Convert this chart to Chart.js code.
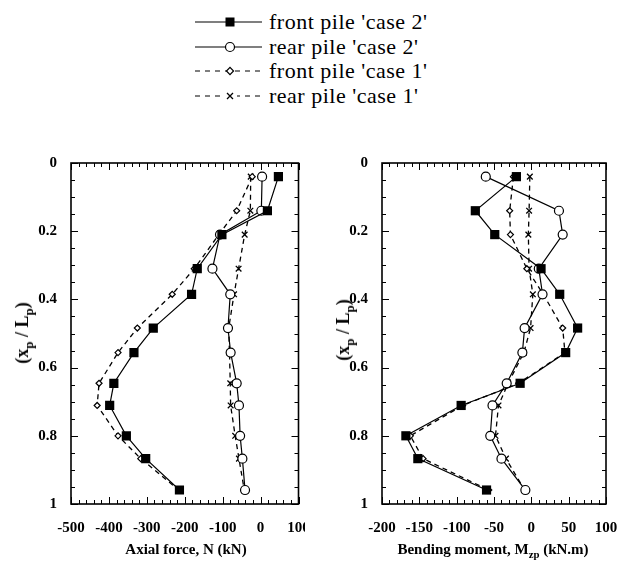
<!DOCTYPE html>
<html><head><meta charset="utf-8">
<script src="https://cdn.jsdelivr.net/npm/chart.js@4.4.0/dist/chart.umd.min.js"></script>
<style>
html,body{margin:0;padding:0;background:#fff;}
body{width:619px;height:563px;position:relative;overflow:hidden;font-family:"Liberation Serif","Times New Roman",serif;color:#000;}
canvas{position:absolute;}
.row{position:absolute;left:190px;height:24px;width:280px;white-space:nowrap;font-size:22px;line-height:24px;letter-spacing:0.5px;}
.row svg{position:absolute;left:0;top:0;}
.row span{position:absolute;left:79px;top:0;}
.title{position:absolute;font-weight:bold;font-size:15px;white-space:nowrap;line-height:18px;}
.ytitle{font-size:18px;}
sub{font-size:72%;vertical-align:-0.35em;line-height:0;}
</style></head>
<body>
<div class="row" style="top:10px"><svg width="76" height="24"><line x1="5" y1="12" x2="72" y2="12" stroke="#000" stroke-width="1.2"/><rect x="35.5" y="7.5" width="9" height="9" fill="#000"/></svg><span>front pile 'case 2'</span></div>
<div class="row" style="top:35px"><svg width="76" height="24"><line x1="5" y1="12" x2="72" y2="12" stroke="#000" stroke-width="1.2"/><circle cx="40" cy="12" r="4.5" fill="#fff" stroke="#000" stroke-width="1.2"/></svg><span>rear pile 'case 2'</span></div>
<div class="row" style="top:59px"><svg width="76" height="24"><line x1="5" y1="12" x2="72" y2="12" stroke="#000" stroke-width="1.2" stroke-dasharray="5,5"/><rect x="37.5" y="9.5" width="5" height="5" fill="#fff" stroke="#000" stroke-width="1.2" transform="rotate(45 40 12)"/></svg><span>front pile 'case 1'</span></div>
<div class="row" style="top:84px"><svg width="76" height="24"><line x1="5" y1="12" x2="72" y2="12" stroke="#000" stroke-width="1.2" stroke-dasharray="5,5"/><rect x="33" y="7" width="14" height="10" fill="#fff"/><path d="M37 9 L43 15 M43 9 L37 15" stroke="#000" stroke-width="1.3"/></svg><span>rear pile 'case 1'</span></div>

<canvas id="c1" width="305" height="400" style="left:0;top:150px;width:305px;height:400px"></canvas>
<canvas id="c2" width="289" height="400" style="left:330px;top:150px;width:289px;height:400px"></canvas>

<div class="title ytitle" style="left:22px;top:333px;transform:translate(-50%,-50%) rotate(-90deg)">(x<sub>p</sub> / L<sub>p</sub>)</div>
<div class="title ytitle" style="left:343px;top:330px;transform:translate(-50%,-50%) rotate(-90deg)">(x<sub>p</sub> / L<sub>p</sub>)</div>
<div class="title" style="left:186px;top:549px;transform:translate(-50%,-50%)">Axial force, N (kN)</div>
<div class="title" style="left:493px;top:549px;transform:translate(-50%,-50%)">Bending moment, M<sub>zp</sub> (kN.m)</div>

<script>
// depth ratio xp/Lp of each measurement level
const depthLevels = [0.04, 0.14, 0.21, 0.31, 0.385, 0.484, 0.556, 0.646, 0.711, 0.80, 0.867, 0.959];

// Axial force N (kN)
const axialFrontCase2 = [47, 18, -102, -167, -182, -283, -334, -387, -398, -354, -303, -214];
const axialRearCase2  = [4, 2, -107, -127, -80, -86, -79, -63, -57, -54, -48, -41];
const axialFrontCase1 = [-22, -63, -110, -175, -233, -325, -376, -426, -431, -376, -316, -216];
const axialRearCase1  = [-26, -27, -42, -58, -70, -84, -82, -80, -79, -67, -57, -43];

// Bending moment Mzp (kN.m)
const momentFrontCase2 = [-20, -75, -49, 13, 38, 62, 46, -15, -94, -168, -152, -60];
const momentRearCase2  = [-61, 37, 42, 10, 15, -9, -12, -33, -52, -55, -40, -8];
const momentFrontCase1 = [-24, -29, -28, -6, 16, 42, 45, -17, -92, -162, -145, -57];
const momentRearCase1  = [-2, -3, -4, -3, 2, -1, -10, -31, -44, -48, -34, -9];

const seriesLabels = ["front pile 'case 2'", "rear pile 'case 2'", "front pile 'case 1'", "rear pile 'case 1'"];

const yTickLabels = ['0', '0.2', '0.4', '0.6', '0.8', '1'];

function pts(vals){ return vals.map((v,i)=>({x:v, y:depthLevels[i]})); }

function makeSets(f2, r2, f1, r1){
  return [
    {label:seriesLabels[0], data:pts(f2), showLine:true, borderColor:'#000', borderWidth:1.2,
     pointStyle:'rect', pointRadius:6.5, pointBackgroundColor:'#000', pointBorderColor:'#000', pointBorderWidth:0},
    {label:seriesLabels[1], data:pts(r2), showLine:true, borderColor:'#000', borderWidth:1.2,
     pointStyle:'circle', pointRadius:4.5, pointBackgroundColor:'#fff', pointBorderColor:'#000', pointBorderWidth:1.2},
    {label:seriesLabels[2], data:pts(f1), showLine:true, borderColor:'#000', borderWidth:1.3, borderDash:[5,4],
     pointStyle:'rectRot', pointRadius:3, pointBackgroundColor:'#fff', pointBorderColor:'#000', pointBorderWidth:1.2},
    {label:seriesLabels[3], data:pts(r1), showLine:true, borderColor:'#000', borderWidth:1.3, borderDash:[5,4],
     pointStyle:'crossRot', pointRadius:4, pointBorderColor:'#000', pointBorderWidth:1.3}
  ];
}

const frameTicks = {
  id:'frameTicks',
  beforeDatasetsDraw(chart, args, o){
    const ctx = chart.ctx, a = chart.chartArea, x = chart.scales.x, y = chart.scales.y;
    ctx.save();
    ctx.strokeStyle = '#000';
    ctx.lineWidth = 1;
    ctx.beginPath();
    const isMaj = (v, m) => Math.abs(v/m - Math.round(v/m)) < 1e-6;
    for (let v = x.min; v <= x.max + 1e-9; v += o.xMinor){
      const px = Math.round(x.getPixelForValue(v)) + 0.5;
      const L = isMaj(v, o.xMajor) ? 7 : 4;
      ctx.moveTo(px, a.bottom); ctx.lineTo(px, a.bottom - L);
      ctx.moveTo(px, a.top); ctx.lineTo(px, a.top + L);
    }
    for (let k = 0; k <= 20; k++){
      const v = k * 0.05;
      const py = Math.round(y.getPixelForValue(v)) + 0.5;
      const L = (k % 4 === 0) ? 7 : 4;
      ctx.moveTo(a.left, py); ctx.lineTo(a.left + L, py);
      ctx.moveTo(a.right, py); ctx.lineTo(a.right - L, py);
    }
    ctx.stroke();
    ctx.lineWidth = 1.6;
    ctx.strokeRect(a.left, a.top, a.right - a.left, a.bottom - a.top);
    ctx.restore();
  }
};

const tickFont = {family:'"Liberation Serif","Times New Roman",serif', size:15, weight:'bold'};

function makeChart(id, sets, xMin, xMax, xStep, xMinor, xMajor, yW, padR){
  return new Chart(document.getElementById(id), {
    type:'scatter',
    data:{datasets:sets},
    options:{
      responsive:false, animation:false, devicePixelRatio:1,
      layout:{padding:{top:13, right:padR, left:0, bottom:0}},
      elements:{line:{tension:0}},
      plugins:{legend:{display:false}, tooltip:{enabled:false}, frameTicks:{xMinor, xMajor}},
      scales:{
        x:{type:'linear', min:xMin, max:xMax,
           grid:{display:false, drawTicks:false}, border:{display:false},
           ticks:{stepSize:xStep, font:tickFont, color:'#000', padding:15, maxRotation:0, autoSkip:false,
                  callback:v=>String(v)},
           afterFit(s){ s.height = 46; s.paddingLeft = 0; s.paddingRight = 0; }},
        y:{type:'linear', reverse:true, min:0, max:1,
           grid:{display:false, drawTicks:false}, border:{display:false},
           ticks:{stepSize:0.2, font:tickFont, color:'#000', padding:14, autoSkip:false,
                  callback:(v)=>yTickLabels[Math.round(v*5)]},
           afterFit(s){ s.width = yW; s.paddingTop = 0; s.paddingBottom = 0; }}
      }
    },
    plugins:[frameTicks]
  });
}

makeChart('c1', makeSets(axialFrontCase2, axialRearCase2, axialFrontCase1, axialRearCase1), -500, 100, 100, 20, 100, 71, 6);
makeChart('c2', makeSets(momentFrontCase2, momentRearCase2, momentFrontCase1, momentRearCase1), -200, 100, 50, 10, 50, 52, 13);
</script>
</body></html>
